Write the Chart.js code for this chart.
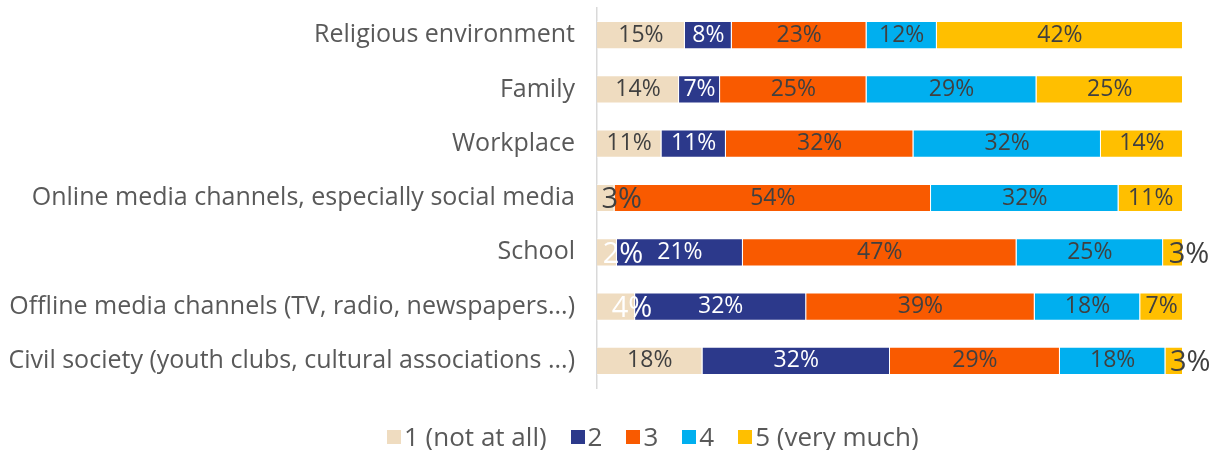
<!DOCTYPE html>
<html>
<head>
<meta charset="utf-8">
<script src="https://cdn.jsdelivr.net/npm/chart.js@4"></script>
<style>
  body { margin: 0; background: #fff; overflow: hidden; }
  #wrap { position: relative; width: 1221px; height: 450px; }
  #legend {
    position: absolute; left: 387px; top: 420px; height: 32px;
    display: flex; align-items: center;
    font-family: 'Open Sans', sans-serif; font-size: 26px; color: #595959;
    white-space: nowrap;
  }
  #legend .item { display: flex; align-items: center; margin-right: 24px; }
  #legend .box { width: 14px; height: 14px; margin-right: 3px; margin-top: 2px; }
</style>
</head>
<body>
<div id="wrap">
  <canvas id="chart-canvas" width="1221" height="450"></canvas>
  <div id="legend"></div>
</div>
<script>
"use strict";

// categories, top to bottom
let categories = [
  "Religious environment",
  "Family",
  "Workplace",
  "Online media channels, especially social media",
  "School",
  "Offline media channels (TV, radio, newspapers...)",
  "Civil society (youth clubs, cultural associations ...)",
];

let seriesNames = ["1 (not at all)", "2", "3", "4", "5 (very much)"];

// bar lengths (share of respondents, %)
let notAtAll = [15, 14, 11, 3, 3.4, 6.5, 18];
let two = [8, 7, 11, 0, 21.5, 29.2, 32];
let three = [23, 25, 32, 54, 46.7, 39, 29];
let four = [12, 29, 32, 32, 25, 18, 18];
let veryMuch = [42, 25, 14, 11, 3.4, 7.3, 3];

// printed labels
let notAtAllLabels = [15, 14, 11, 3, 2, 4, 18];
let twoLabels = [8, 7, 11, null, 21, 32, 32];
let threeLabels = [23, 25, 32, 54, 47, 39, 29];
let fourLabels = [12, 29, 32, 32, 25, 18, 18];
let veryMuchLabels = [42, 25, 14, 11, 3, 7, 3];

let colors = ["#EFDCC0", "#2C398B", "#F95A00", "#00AFEF", "#FFBF00"];
let FONT = "'Open Sans', sans-serif";

let allValues = [notAtAll, two, three, four, veryMuch];
let allLabels = [notAtAllLabels, twoLabels, threeLabels, fourLabels, veryMuchLabels];

// beige labels drawn in white (School, Offline media)
let whiteBeigeRows = [4, 5];

let barLabels = {
  id: "barLabels",
  afterDatasetsDraw(chart) {
    let ctx = chart.ctx;
    ctx.save();
    ctx.textBaseline = "middle";
    chart.data.datasets.forEach((ds, i) => {
      let meta = chart.getDatasetMeta(i);
      meta.data.forEach((bar, j) => {
        let v = allLabels[i][j];
        if (v === null || v === undefined) return;
        let p = bar.getProps(["x", "y", "base"], true);
        let cx = (p.x + p.base) / 2;
        let white = i === 1 || (i === 0 && whiteBeigeRows.includes(j));
        ctx.fillStyle = white ? "#ffffff" : "#404040";
        ctx.textAlign = "center";
        if (v < 5) {
          // tiny segments: Excel lets the label spill over, a bit bigger
          ctx.font = "29px " + FONT;
          ctx.fillText(v + "%", cx + 16, p.y + 2);
        } else {
          ctx.font = "23px " + FONT;
          ctx.fillText(v + "%", cx, p.y);
        }
      });
    });
    ctx.restore();
  },
};

let datasets = [];
for (let i = 0; i < seriesNames.length; i++) {
  datasets.push({
    label: seriesNames[i],
    data: allValues[i],
    backgroundColor: colors[i],
    borderColor: "rgba(255,255,255,0.55)",
    borderWidth: 1,
    barPercentage: 0.52,
    categoryPercentage: 1,
  });
}

let ctx = document.getElementById("chart-canvas");
let chart = new Chart(ctx, {
  type: "bar",
  data: { labels: categories, datasets: datasets },
  options: {
    indexAxis: "y",
    responsive: false,
    animation: false,
    layout: { padding: { top: 8, right: 38, bottom: 62, left: 0 } },
    scales: {
      x: {
        stacked: true,
        min: 0,
        max: 100,
        display: false,
      },
      y: {
        stacked: true,
        afterFit(scale) {
          scale.width = 597;
          scale.paddingTop = 0;
          scale.paddingBottom = 0;
        },
        grid: { display: false, drawTicks: false },
        border: { display: true, color: "#d9d9d9", width: 1.5 },
        ticks: {
          padding: 22,
          color: "#595959",
          font: { family: FONT, size: 25 },
        },
      },
    },
    plugins: {
      legend: { display: false },
      tooltip: { enabled: false },
    },
  },
  plugins: [barLabels],
});

// legend below the plot, built from the chart's datasets
let legendDiv = document.getElementById("legend");
for (let ds of chart.data.datasets) {
  let item = document.createElement("div");
  item.className = "item";
  let box = document.createElement("span");
  box.className = "box";
  box.style.background = ds.backgroundColor;
  let txt = document.createElement("span");
  txt.textContent = ds.label;
  item.appendChild(box);
  item.appendChild(txt);
  legendDiv.appendChild(item);
}
</script>
</body>
</html>
